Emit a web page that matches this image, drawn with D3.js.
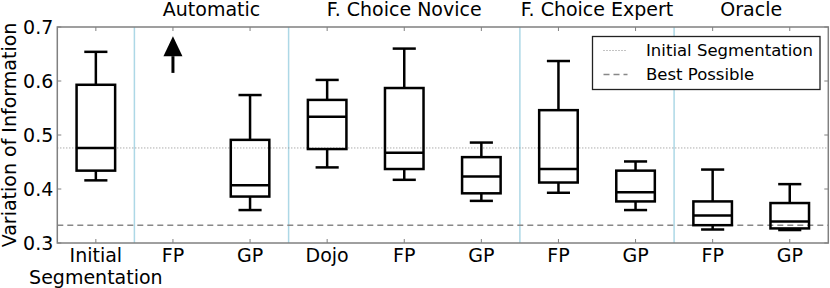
<!DOCTYPE html>
<html>
<head>
<meta charset="utf-8">
<script src="https://cdn.jsdelivr.net/npm/d3@7"></script>
<style>
  body { margin: 0; background: white; }
  text { font-family: "DejaVu Sans", sans-serif; }
</style>
</head>
<body>
<div id="chart"></div>
<script>
// --- data ---
var categories = ["Initial\nSegmentation", "FP", "GP", "Dojo", "FP", "GP", "FP", "GP", "FP", "GP"];
var groups = [
    { name: "Automatic", from: 2, to: 3 },
    { name: "F. Choice Novice", from: 4, to: 6 },
    { name: "F. Choice Expert", from: 7, to: 8 },
    { name: "Oracle", from: 9, to: 10 }
];
// null = box not shown (value above the chart)
var whiskerLow  = [0.416, null, 0.361, 0.440, 0.417, 0.378, 0.393, 0.361, 0.325, 0.324];
var q1          = [0.434, null, 0.386, 0.474, 0.437, 0.392, 0.412, 0.377, 0.333, 0.327];
var median      = [0.476, null, 0.407, 0.534, 0.467, 0.423, 0.437, 0.394, 0.351, 0.340];
var q3          = [0.593, null, 0.491, 0.565, 0.587, 0.459, 0.546, 0.434, 0.377, 0.374];
var whiskerHigh = [0.654, null, 0.574, 0.602, 0.660, 0.486, 0.637, 0.451, 0.436, 0.409];
var offChart = [{ pos: 2, from: 0.615, to: 0.683 }];
var yTicks = [0.3, 0.4, 0.5, 0.6, 0.7];
var initialLine = 0.476;
var bestLine = 0.333;

// --- canvas ---
var width = 830, height = 288;
var margin = { left: 57.3, right: 1.7, top: 27, bottom: 45 };
var w = width - margin.left - margin.right;
var h = height - margin.top - margin.bottom;

var svg = d3.select("#chart").append("svg")
    .attr("width", width)
    .attr("height", height);
var g = svg.append("g")
    .attr("transform", "translate(" + margin.left + "," + margin.top + ")");

// --- scales ---
var x = d3.scaleLinear().domain([0.5, categories.length + 0.5]).range([0, w]);
var y = d3.scaleLinear().domain([0.3, 0.7]).range([h, 0]);
var step = x(2) - x(1);
var boxW = step * 0.5;
var capW = step * 0.3;

// group separators (light blue)
var seps = groups.map(d => d.from - 0.5);
g.selectAll(".sep").data(seps).enter().append("line")
    .attr("x1", d => x(d)).attr("x2", d => x(d))
    .attr("y1", 0).attr("y2", h)
    .attr("stroke", "#add8e6").attr("stroke-width", 1.5);

// reference lines
g.append("line")
    .attr("x1", 0).attr("x2", w)
    .attr("y1", y(initialLine)).attr("y2", y(initialLine))
    .attr("stroke", "#888").attr("stroke-width", 1)
    .attr("stroke-dasharray", "1,2");
g.append("line")
    .attr("x1", 0).attr("x2", w)
    .attr("y1", y(bestLine)).attr("y2", y(bestLine))
    .attr("stroke", "#888").attr("stroke-width", 1.5)
    .attr("stroke-dasharray", "6,4");

// --- boxes ---
var idx = d3.range(categories.length).filter(i => median[i] != null);
var boxes = g.selectAll(".box").data(idx).enter().append("g")
    .attr("stroke", "black").attr("stroke-width", 2.5).attr("fill", "none");

// whiskers
boxes.append("line")
    .attr("x1", i => x(i + 1)).attr("x2", i => x(i + 1))
    .attr("y1", i => y(q3[i])).attr("y2", i => y(whiskerHigh[i]));
boxes.append("line")
    .attr("x1", i => x(i + 1)).attr("x2", i => x(i + 1))
    .attr("y1", i => y(q1[i])).attr("y2", i => y(whiskerLow[i]));
// caps
boxes.append("line")
    .attr("x1", i => x(i + 1) - capW / 2).attr("x2", i => x(i + 1) + capW / 2)
    .attr("y1", i => y(whiskerHigh[i])).attr("y2", i => y(whiskerHigh[i]));
boxes.append("line")
    .attr("x1", i => x(i + 1) - capW / 2).attr("x2", i => x(i + 1) + capW / 2)
    .attr("y1", i => y(whiskerLow[i])).attr("y2", i => y(whiskerLow[i]));
// box
boxes.append("rect")
    .attr("x", i => x(i + 1) - boxW / 2)
    .attr("width", boxW)
    .attr("y", i => y(q3[i]))
    .attr("height", i => y(q1[i]) - y(q3[i]));
// median
boxes.append("line")
    .attr("x1", i => x(i + 1) - boxW / 2).attr("x2", i => x(i + 1) + boxW / 2)
    .attr("y1", i => y(median[i])).attr("y2", i => y(median[i]));

// arrow for values off the chart
offChart.forEach(function (d) {
    var headLen = 20, headW = 19;
    g.append("line")
        .attr("x1", x(d.pos)).attr("x2", x(d.pos))
        .attr("y1", y(d.from)).attr("y2", y(d.to) + headLen)
        .attr("stroke", "black").attr("stroke-width", 3);
    g.append("path")
        .attr("d", "M" + x(d.pos) + "," + y(d.to) +
            "L" + (x(d.pos) + headW / 2) + "," + (y(d.to) + headLen) +
            "L" + (x(d.pos) - headW / 2) + "," + (y(d.to) + headLen) + "Z")
        .attr("fill", "black");
});

// --- axes frame and ticks ---
var frame = "#808080";
g.append("rect")
    .attr("width", w).attr("height", h)
    .attr("fill", "none").attr("stroke", frame).attr("stroke-width", 1.5);

var xs = d3.range(1, categories.length + 1);
g.selectAll(".xtb").data(xs).enter().append("line")
    .attr("x1", d => x(d)).attr("x2", d => x(d))
    .attr("y1", h).attr("y2", h - 4)
    .attr("stroke", frame);
g.selectAll(".xtt").data(xs).enter().append("line")
    .attr("x1", d => x(d)).attr("x2", d => x(d))
    .attr("y1", 0).attr("y2", 4)
    .attr("stroke", frame);
g.selectAll(".ytl").data(yTicks).enter().append("line")
    .attr("x1", 0).attr("x2", 4)
    .attr("y1", d => y(d)).attr("y2", d => y(d))
    .attr("stroke", frame);
g.selectAll(".ytr").data(yTicks).enter().append("line")
    .attr("x1", w).attr("x2", w - 4)
    .attr("y1", d => y(d)).attr("y2", d => y(d))
    .attr("stroke", frame);

// y tick labels
g.selectAll(".ylab").data(yTicks).enter().append("text")
    .attr("x", -4).attr("y", d => y(d))
    .attr("dy", "0.36em")
    .attr("text-anchor", "end")
    .attr("font-size", 19)
    .text(d => d.toFixed(1));

// x tick labels (multi-line)
var xl = g.selectAll(".xlab").data(categories).enter().append("text")
    .attr("text-anchor", "middle")
    .attr("font-size", 19)
    .attr("transform", (d, i) => "translate(" + x(i + 1) + "," + (h + 18.5) + ")");
xl.selectAll("tspan").data(d => d.split("\n")).enter().append("tspan")
    .attr("x", 0).attr("dy", (d, j) => j == 0 ? 0 : 22)
    .text(d => d);

// group titles
g.selectAll(".gt").data(groups).enter().append("text")
    .attr("x", d => x((d.from + d.to) / 2))
    .attr("y", -11)
    .attr("text-anchor", "middle")
    .attr("font-size", 19)
    .text(d => d.name);

// y label
svg.append("text")
    .attr("transform", "translate(15.5," + (margin.top + h / 2) + ") rotate(-90)")
    .attr("text-anchor", "middle")
    .attr("font-size", 19)
    .text("Variation of Information");

// --- legend ---
var legend = svg.append("g").attr("transform", "translate(592.5,36.5)");
legend.append("rect")
    .attr("width", 227.5).attr("height", 53)
    .attr("fill", "white").attr("stroke", "#222").attr("stroke-width", 1.3);
var legendItems = [
    { label: "Initial Segmentation", dash: "1,2", sw: 1 },
    { label: "Best Possible", dash: "6,4", sw: 1.5 }
];
legendItems.forEach(function (d, i) {
    var ly = 14 + i * 24;
    legend.append("line")
        .attr("x1", 11).attr("x2", 35)
        .attr("y1", ly).attr("y2", ly)
        .attr("stroke", "#888").attr("stroke-width", d.sw)
        .attr("stroke-dasharray", d.dash);
    legend.append("text")
        .attr("x", 53.5).attr("y", ly + 5.5)
        .attr("font-size", 16.5)
        .text(d.label);
});
</script>
</body>
</html>
